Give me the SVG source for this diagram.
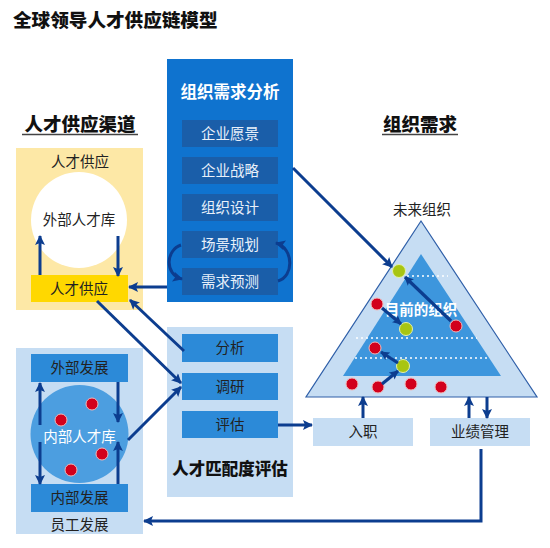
<svg xmlns="http://www.w3.org/2000/svg" width="550" height="548" viewBox="0 0 550 548">
<defs>
<marker id="ah" viewBox="0 0 10 10" refX="9" refY="5" markerWidth="11" markerHeight="10" markerUnits="userSpaceOnUse" orient="auto">
<path d="M0,0 L10,5 L0,10 L2,5 z" fill="#0c3d8f"/>
</marker>
<marker id="ahs" viewBox="0 0 10 10" refX="9" refY="5" markerWidth="10" markerHeight="9" markerUnits="userSpaceOnUse" orient="auto">
<path d="M0,0 L10,5 L0,10 L2,5 z" fill="#0c3d8f"/>
</marker>
</defs>
<style>
text{font-family:"Noto Sans CJK SC","Noto Sans",sans-serif;text-anchor:middle}
.t{font-size:14.5px;fill:#222}
.w{font-size:14.5px;fill:#e8f0fa}
.h{font-size:18.5px;font-weight:900;fill:#111}
.lb{fill:#c6ddf3}
.mb{fill:#2c8ad8}
.db{fill:#1a5ea9}
.c{fill:none;stroke:#0c3d8f;stroke-width:3}
.cs{fill:none;stroke:#0c3d8f;stroke-width:3.2}
.red{fill:#d2001c;stroke:#f3b5b5;stroke-width:1}
.yg{fill:#a8c512;stroke:#e4f0a8;stroke-width:1}
.dot{stroke:#ffffff;stroke-width:1.6;stroke-dasharray:2 3;fill:none}
</style>
<rect width="550" height="548" fill="#ffffff"/>
<g id="title"><text x="13" y="27" style="font-size:18.6px;font-weight:900;fill:#111;text-anchor:start">全球领导人才供应链模型</text></g>

<g id="supply-channel">
<text class="h" x="80" y="131">人才供应渠道</text>
<line x1="22" y1="134.5" x2="138" y2="134.5" stroke="#444" stroke-width="1.5"/>
<rect x="16" y="148" width="127" height="162" fill="#fde8a6"/>
<text class="t" x="80" y="167">人才供应</text>
<circle cx="79" cy="220" r="48" fill="#ffffff"/>
<text class="t" x="79" y="225">外部人才库</text>
<rect x="31" y="275" width="97" height="27" fill="#ffd800"/>
<text class="t" x="79" y="294">人才供应</text>
</g>

<g id="employee-dev">
<rect x="16" y="348" width="127" height="186" class="lb"/>
<circle cx="79.5" cy="434" r="49" fill="#4c9ee0"/>
<rect x="31" y="354" width="97" height="28" class="mb"/>
<text class="t" x="79.5" y="373">外部发展</text>
<rect x="31" y="484" width="97" height="28" class="mb"/>
<text class="t" x="79.5" y="503">内部发展</text>
<text class="w" x="79.5" y="442" style="fill:#ffffff">内部人才库</text>
<text class="t" x="79.5" y="530">员工发展</text>
<circle class="red" cx="92" cy="404" r="6"/>
<circle class="red" cx="61" cy="420" r="6"/>
<circle class="red" cx="102" cy="454" r="6"/>
<circle class="red" cx="71" cy="470" r="6"/>
</g>

<g id="demand-analysis">
<rect x="167" y="59" width="126" height="243" fill="#0f73cf"/>
<text x="230" y="98" style="font-size:16.5px;font-weight:bold;fill:#ffffff">组织需求分析</text>
<rect x="182" y="120" width="96" height="27" class="db"/>
<text class="w" x="230" y="139">企业愿景</text>
<rect x="182" y="157" width="96" height="27" class="db"/>
<text class="w" x="230" y="176">企业战略</text>
<rect x="182" y="194" width="96" height="27" class="db"/>
<text class="w" x="230" y="213">组织设计</text>
<rect x="182" y="231" width="96" height="27" class="db"/>
<text class="w" x="230" y="250">场景规划</text>
<rect x="182" y="268" width="96" height="27" class="db"/>
<text class="w" x="230" y="287">需求预测</text>
</g>

<g id="match-eval">
<rect x="167" y="327" width="126" height="170" class="lb"/>
<rect x="182" y="334" width="96" height="28" class="mb"/>
<text class="t" x="230" y="353">分析</text>
<rect x="182" y="373" width="96" height="27" class="mb"/>
<text class="t" x="230" y="392">调研</text>
<rect x="182" y="411" width="96" height="27" class="mb"/>
<text class="t" x="230" y="430">评估</text>
<text x="230" y="475" style="font-size:16.5px;font-weight:900;fill:#111">人才匹配度评估</text>
</g>

<g id="org-demand">
<text class="h" x="420" y="131">组织需求</text>
<line x1="382" y1="134.5" x2="458" y2="134.5" stroke="#444" stroke-width="1.5"/>
<text class="t" x="422" y="215">未来组织</text>
<polygon points="421,221 537,397 306,397" fill="#c6ddf3" stroke="#2f5fa8" stroke-width="1.2"/>
<polygon points="421,254 501,376 343,376" fill="#3d96dd"/>
<line class="dot" x1="407" y1="276" x2="448" y2="276"/>
<line class="dot" x1="356" y1="338" x2="477" y2="338"/>
<line class="dot" x1="355" y1="358" x2="488" y2="358"/>
<text x="421" y="315" style="font-size:14.5px;font-weight:bold;fill:#ffffff">目前的组织</text>
<circle class="yg" cx="399" cy="271" r="6.5"/>
<circle class="yg" cx="406" cy="329" r="6.5"/>
<circle class="yg" cx="403" cy="366" r="6.5"/>
<circle class="red" cx="377" cy="304" r="6"/>
<circle class="red" cx="456" cy="326" r="6"/>
<circle class="red" cx="375" cy="348" r="6"/>
<circle class="red" cx="352" cy="384" r="6"/>
<circle class="red" cx="378" cy="387" r="6"/>
<circle class="red" cx="411" cy="384" r="6"/>
<circle class="red" cx="441" cy="387" r="6"/>
</g>

<g id="onboard">
<rect x="313" y="418" width="100" height="28" class="lb"/>
<text class="t" x="363" y="437">入职</text>
</g>
<g id="performance">
<rect x="430" y="418" width="100" height="28" class="lb"/>
<text class="t" x="480" y="437">业绩管理</text>
</g>

<g id="connectors">
<line class="c" x1="40" y1="275" x2="40" y2="236" marker-end="url(#ah)"/>
<line class="c" x1="118" y1="236" x2="118" y2="276" marker-end="url(#ah)"/>
<line class="c" x1="40" y1="425" x2="40" y2="383" marker-end="url(#ah)"/>
<line class="c" x1="40" y1="442" x2="40" y2="484" marker-end="url(#ah)"/>
<line class="c" x1="118" y1="382" x2="118" y2="422" marker-end="url(#ah)"/>
<line class="c" x1="118" y1="484" x2="118" y2="442" marker-end="url(#ah)"/>
<path class="c" d="M181,245 C166,250 164,274 182,279" marker-end="url(#ah)"/>
<path class="c" d="M278,281 C294,277 294,248 276,243" marker-end="url(#ah)"/>
<line class="c" x1="167" y1="287" x2="129" y2="287" marker-end="url(#ah)"/>
<line class="c" x1="184" y1="351" x2="130" y2="300" marker-end="url(#ah)"/>
<line class="c" x1="97" y1="301" x2="181" y2="383" marker-end="url(#ah)"/>
<line class="c" x1="128" y1="440" x2="181" y2="387" marker-end="url(#ah)"/>
<line class="c" x1="293" y1="168" x2="392" y2="267" marker-end="url(#ah)"/>
<line class="c" x1="278" y1="425" x2="312" y2="425" marker-end="url(#ah)"/>
<line class="c" x1="363" y1="418" x2="363" y2="397" marker-end="url(#ah)"/>
<line class="c" x1="469" y1="418" x2="469" y2="397" marker-end="url(#ah)"/>
<line class="c" x1="487" y1="397" x2="487" y2="418" marker-end="url(#ah)"/>
<polyline class="c" points="481,449 481,521 144,521" marker-end="url(#ah)"/>
<line class="cs" x1="451" y1="321" x2="405" y2="277" marker-end="url(#ahs)"/>
<line class="cs" x1="382" y1="308" x2="401" y2="324" marker-end="url(#ahs)"/>
<line class="cs" x1="398" y1="363" x2="381" y2="352" marker-end="url(#ahs)"/>
<line class="cs" x1="382" y1="384" x2="398" y2="371" marker-end="url(#ahs)"/>
</g>
</svg>
